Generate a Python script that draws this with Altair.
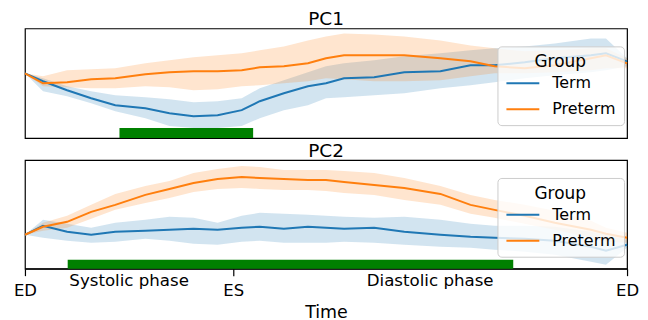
import altair as alt
import pandas as pd

# ---- data ----
time = [0, 0.03, 0.07, 0.11, 0.15, 0.2, 0.24, 0.28, 0.32, 0.36, 0.39, 0.43, 0.47,
        0.5, 0.53, 0.58, 0.63, 0.69, 0.74, 0.78, 0.83, 0.88, 0.94, 0.965, 1.0]

pc1_term_mean = [0, -8, -17, -25, -32, -35, -40, -43, -42, -37, -28, -20, -13,
                 -10, -5, -4, 1, 2, 8, 8, 11, 15, 18, 20, 12]
pc1_term_hi = [0, -5, -13, -18, -22, -24, -26, -29, -28, -25, -15, -7, 1,
               7, 10, 13, 17, 20, 23, 25, 27, 30, 35, 35, 15]
pc1_term_lo = [0, -18, -23, -30, -38, -45, -53, -55, -55, -53, -45, -37, -32,
               -25, -24, -22, -20, -15, -12, -9, -5, -2, 1, 3, 7]

pc1_pre_mean = [0, -10, -9, -6, -5, -1, 1, 2, 2, 3, 6, 7, 10,
                15, 18, 18, 18, 15, 12, 7, 5, 8, 15, 18, 10]
pc1_pre_hi = [0, -3, 3, 4, 5, 10, 13, 16, 18, 20, 23, 27, 33,
              37, 40, 39, 37, 33, 28, 25, 22, 23, 25, 25, 15]
pc1_pre_lo = [0, -13, -14, -15, -15, -13, -14, -17, -16, -13, -12, -10, -8,
              -5, -6, -8, -8, -7, -3, 0, 0, 1, 3, 5, 5]

pc2_term_mean = [0, 9, 3, 0, 3, 4, 5, 6, 5, 7, 8, 6, 8,
                 7, 6, 7, 3, 0, -2, -3, -4, -6, -12, -16, -10]
pc2_term_hi = [0, 15, 11, 7, 12, 15, 18, 17, 12, 19, 22, 21, 20,
               19, 18, 17, 18, 15, 11, 9, 9, 8, 3, 0, -5]
pc2_term_lo = [0, -3, -6, -8, -7, -4, -6, -9, -10, -7, -6, -8, -8,
               -8, -7, -8, -10, -12, -13, -15, -17, -20, -27, -30, -13]

pc2_pre_mean = [0, 8, 13, 23, 30, 40, 46, 52, 56, 58, 57, 56, 55,
                55, 53, 50, 47, 41, 30, 25, 19, 12, 5, 1, -3]
pc2_pre_hi = [0, 12, 19, 30, 41, 49, 54, 62, 66, 69, 68, 65, 65,
              65, 64, 62, 57, 49, 40, 35, 30, 24, 14, 7, 2]
pc2_pre_lo = [0, 4, 7, 16, 25, 32, 37, 43, 46, 47, 46, 45, 45,
              44, 42, 40, 35, 30, 21, 17, 11, 5, -3, -7, -8]

groups = ["Term", "Preterm"]
colors = ["#1f77b4", "#ff7f0e"]

pc1_domain = [-65, 45]
pc2_domain = [-34, 75]

# significance bars (start, end, y-bottom, y-top)
pc1_sig = [0.157, 0.379, -65, -55]
pc2_sig = [0.071, 0.811, -34, -25]

es_time = 0.346
phase_labels = ["Systolic phase", "Diastolic phase"]
phase_mid = [0.173, 0.673]

FONT = "DejaVu Sans"
W = 604


def long_df(term, pre):
    rows = []
    for g, (m, lo, hi) in zip(groups, [term, pre]):
        for t, a, b, c in zip(time, m, lo, hi):
            rows.append({"t": t, "group": g, "mean": a, "lo": b, "hi": c})
    return pd.DataFrame(rows)


def panel(title, df, ydom, sig, height, bottom):
    xscale = alt.Scale(domain=[0, 1], nice=False, zero=False)
    yscale = alt.Scale(domain=ydom, nice=False, zero=False)
    if bottom:
        xaxis = alt.Axis(values=[0, es_time, 1],
                         labelExpr="datum.value == " + str(es_time) + " ? 'ES' : 'ED'",
                         tickSize=7, labelPadding=7, labelFlush=False, grid=False,
                         labelFontSize=16.5, titleFontSize=17.5, titleFontWeight="normal",
                         titlePadding=4, domainColor="black", tickColor="black",
                         labelColor="black", titleColor="black", tickWidth=1.2,
                         domainWidth=1.2, labelOverlap=False)
    else:
        xaxis = None
    base = alt.Chart(df)
    band = base.mark_area(opacity=0.2).encode(
        x=alt.X("t:Q", scale=xscale, axis=xaxis, title="Time"),
        y=alt.Y("lo:Q", scale=yscale, axis=None),
        y2="hi:Q",
        fill=alt.Fill("group:N", scale=alt.Scale(domain=groups, range=colors), legend=None),
    )
    line = base.mark_line(strokeWidth=2).encode(
        x=alt.X("t:Q", scale=xscale, axis=xaxis, title="Time"),
        y=alt.Y("mean:Q", scale=yscale, axis=None),
        stroke=alt.Stroke("group:N", scale=alt.Scale(domain=groups, range=colors),
                          legend=alt.Legend(title="Group", orient="none", legendX=474, legendY=18,
                                            titleFontSize=17, titleFontWeight="normal",
                                            labelFontSize=16, titleAnchor="middle",
                                            symbolType="stroke", symbolSize=1089,
                                            symbolStrokeWidth=2, fillColor="rgba(255,255,255,0.8)",
                                            strokeColor="#cccccc", cornerRadius=4, padding=8,
                                            rowPadding=10, clipHeight=16, labelOffset=12,
                                            titlePadding=4,
                                            titleColor="black", labelColor="black")),
    )
    sig_df = pd.DataFrame([{"s": sig[0], "e": sig[1], "y1": sig[2], "y2": sig[3]}])
    bar = alt.Chart(sig_df).mark_rect(color="#008000").encode(
        x=alt.X("s:Q", scale=xscale), x2="e:Q",
        y=alt.Y("y1:Q", scale=yscale), y2="y2:Q",
    )
    layers = [band, line, bar]
    if bottom:
        ph = pd.DataFrame({"mid": phase_mid, "label": phase_labels})
        txt = alt.Chart(ph).mark_text(fontSize=16.7, baseline="alphabetic", align="center",
                                      color="black", font=FONT).encode(
            x=alt.X("mid:Q", scale=xscale), y=alt.value(height + 17), text="label:N")
        layers.append(txt)
    return alt.layer(*layers).properties(
        width=W, height=height,
        title=alt.TitleParams(title, fontSize=18.5, fontWeight="normal", offset=0, font=FONT, color="black"),
    )


top = panel("PC1", long_df((pc1_term_mean, pc1_term_lo, pc1_term_hi),
                           (pc1_pre_mean, pc1_pre_lo, pc1_pre_hi)), pc1_domain, pc1_sig, 110, False)
bot = panel("PC2", long_df((pc2_term_mean, pc2_term_lo, pc2_term_hi),
                           (pc2_pre_mean, pc2_pre_lo, pc2_pre_hi)), pc2_domain, pc2_sig, 109, True)

chart = alt.vconcat(top, bot, spacing=22, bounds="flush").resolve_scale(
    y="independent", x="independent").resolve_legend(stroke="independent").properties(
    padding={"left": 4, "top": 0, "right": 0, "bottom": 0}
).configure(font=FONT).configure_view(stroke="black", strokeWidth=1.2)

chart.save("out.html", embed_options={"renderer": "svg", "actions": False})
